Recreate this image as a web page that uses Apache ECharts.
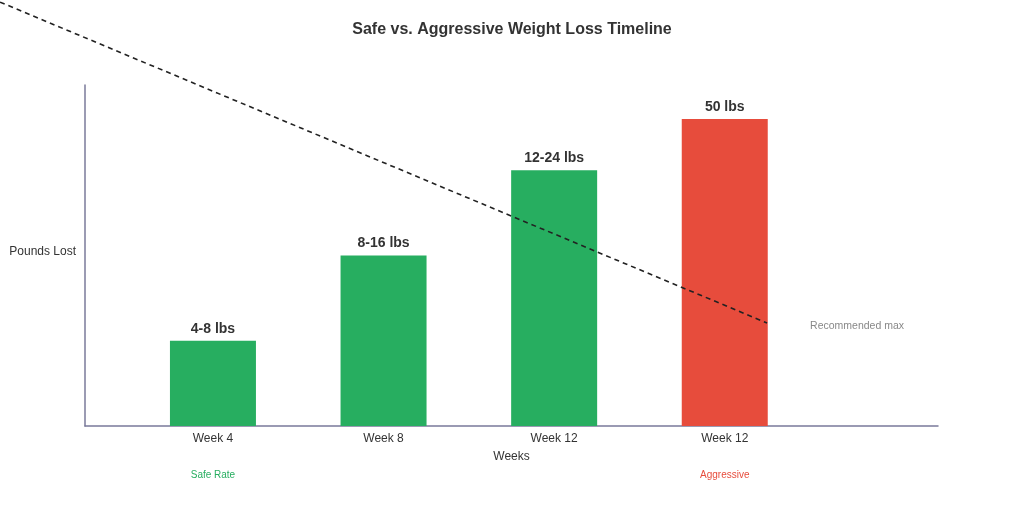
<!DOCTYPE html>
<html>
<head>
<meta charset="utf-8">
<script src="https://cdn.jsdelivr.net/npm/echarts@6/dist/echarts.min.js"></script>
<style>html,body{margin:0;padding:0;background:#fff}#c{width:1024px;height:512px}</style>
</head>
<body>
<div id="c"></div>
<script>
const weeks = ['Week 4', 'Week 8', 'Week 12', 'Week 12'];
const barValues = [25, 50, 75, 90];
const barLabels = ['4-8 lbs', '8-16 lbs', '12-24 lbs', '50 lbs'];
const groupLabels = ['Safe Rate', '', '', 'Aggressive'];
const barColors = ['#27ae60', '#27ae60', '#27ae60', '#e74c3c'];
const trendX = [-1.248, 3.248];
const trendY = [124.3, 30.2];
const trendLabels = ['', 'Recommended max'];

const chart = echarts.init(document.getElementById('c'));
const font = 'Liberation Sans, Arial, sans-serif';
// overlay grid with the same scale as the main one, extended to the page's top-left corner
const pxPerX = (1024 - 85 - 86) / 5;
const pxPerY = (512 - 85 - 86) / 100;
chart.setOption({
  backgroundColor: '#fff',
  animation: false,
  title: {
    text: 'Safe vs. Aggressive Weight Loss Timeline',
    left: 'center', top: 17,
    textStyle: { fontFamily: font, fontSize: 16, fontWeight: 'bold', color: '#333' }
  },
  grid: [
    { left: 85, right: 86, top: 85, bottom: 86 },
    { left: 0, right: 86, top: 0, bottom: 86 }
  ],
  xAxis: [{
    type: 'value', min: -0.75, max: 4.25, interval: 0.25,
    name: 'Weeks', nameLocation: 'middle', nameGap: 25, nameMoveOverlap: false,
    nameTextStyle: { fontFamily: font, fontSize: 12, color: '#333' },
    axisLine: { show: true, onZero: false, lineStyle: { color: '#7a7a9a', width: 1.5 } },
    axisTick: { show: false },
    splitLine: { show: false },
    axisLabel: {
      margin: 4,
      lineHeight: 18,
      showMinLabel: true, showMaxLabel: true,
      formatter: function (v) {
        const i = Math.round(v);
        if (Math.abs(v - i) > 1e-6 || i < 0 || i >= weeks.length) return '';
        let s = '{w|' + weeks[i] + '}';
        if (groupLabels[i]) s += '\n\n{g' + i + '|' + groupLabels[i] + '}';
        return s;
      },
      rich: {
        w: { fontFamily: font, fontSize: 12, color: '#333', lineHeight: 18 },
        g0: { fontFamily: font, fontSize: 10, color: '#27ae60', lineHeight: 18 },
        g3: { fontFamily: font, fontSize: 10, color: '#e74c3c', lineHeight: 18 }
      }
    }
  }, {
    type: 'value', gridIndex: 1,
    min: 4.25 - (1024 - 86) / pxPerX, max: 4.25,
    show: false
  }],
  yAxis: [{
    type: 'value', min: 0, max: 100,
    name: 'Pounds Lost', nameLocation: 'middle', nameGap: 9, nameRotate: 0, nameMoveOverlap: false,
    nameTextStyle: { fontFamily: font, fontSize: 12, color: '#333', align: 'right', verticalAlign: 'bottom', lineHeight: 7 },
    axisLine: { show: true, onZero: false, lineStyle: { color: '#7a7a9a', width: 1.5 } },
    axisTick: { show: false },
    axisLabel: { show: false },
    splitLine: { show: false }
  }, {
    type: 'value', gridIndex: 1,
    min: 0, max: (512 - 86) / pxPerY,
    show: false
  }],
  series: [
    {
      type: 'bar',
      barWidth: 86,
      data: barValues.map((v, i) => [i, v]),
      itemStyle: { color: p => barColors[p.dataIndex] },
      label: {
        show: true, position: 'top', distance: 5,
        formatter: p => barLabels[p.dataIndex],
        fontFamily: font, fontSize: 14, fontWeight: 'bold', color: '#333'
      }
    },
    {
      type: 'line',
      xAxisIndex: 1, yAxisIndex: 1,
      clip: false,
      symbol: 'circle', symbolSize: 2, showSymbol: true,
      itemStyle: { color: 'rgba(0,0,0,0)' },
      data: trendX.map((x, i) => [x, trendY[i]]),
      lineStyle: { color: '#222', width: 1.6, type: [5, 4] },
      label: {
        show: true, position: 'right', distance: 42, offset: [0, 3],
        formatter: p => trendLabels[p.dataIndex],
        fontFamily: font, fontSize: 10.5, color: '#888'
      },
      z: 5
    }
  ]
});
</script>
</body>
</html>
